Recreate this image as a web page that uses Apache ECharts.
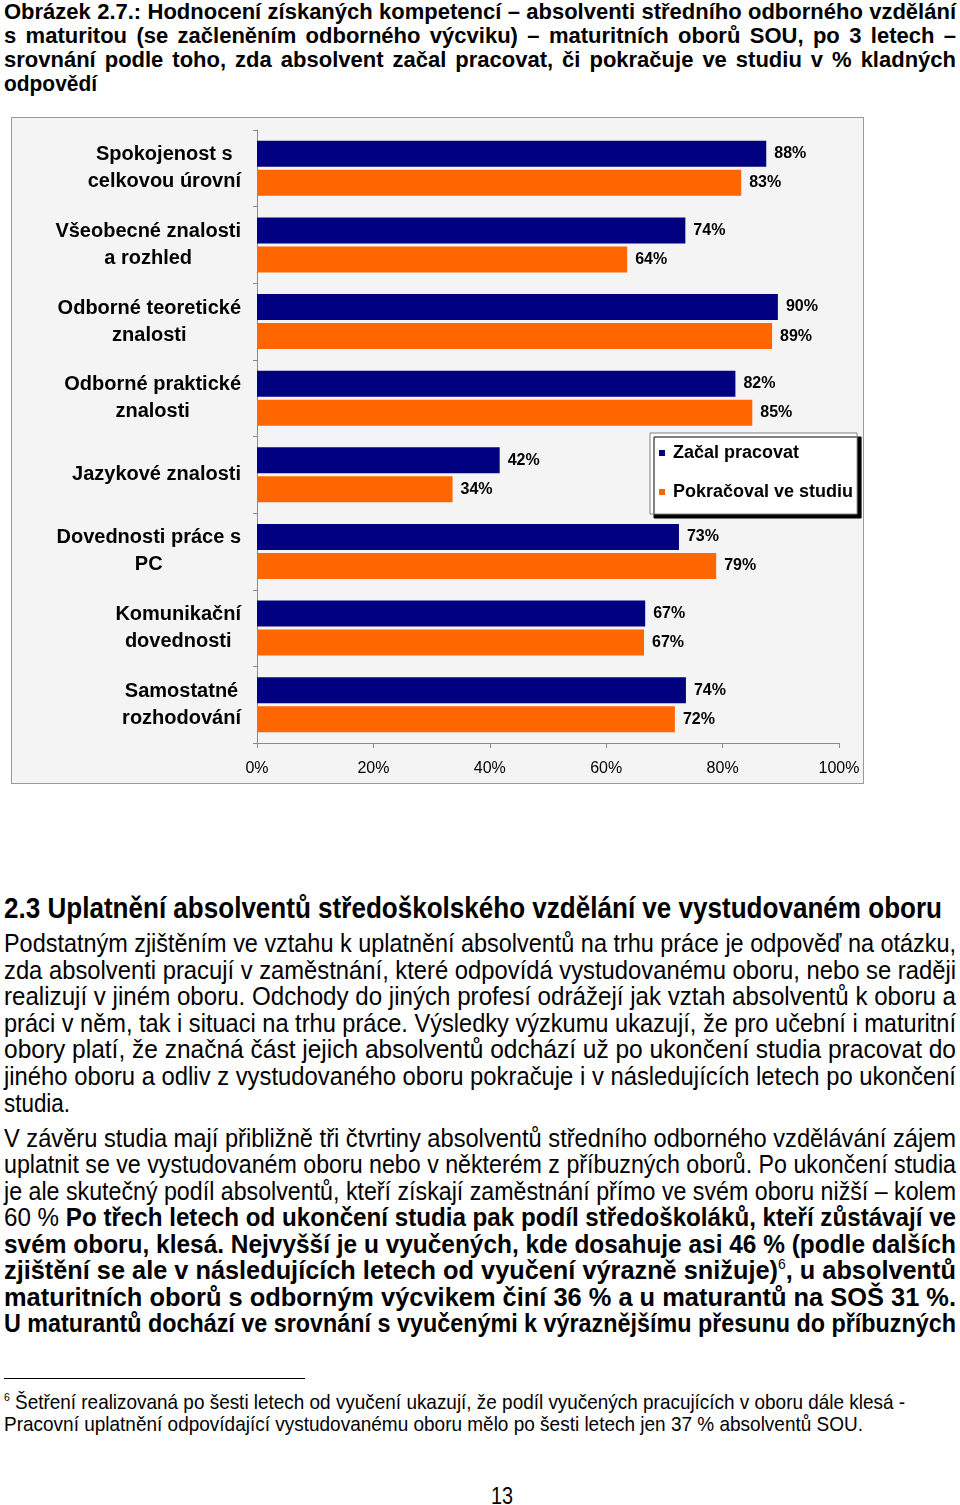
<!DOCTYPE html>
<html><head><meta charset="utf-8">
<script src="https://cdn.jsdelivr.net/npm/echarts@6/dist/echarts.min.js"></script>
<style>
html,body{margin:0;padding:0;background:#fff;}
body{width:960px;height:1505px;position:relative;overflow:hidden;}
.ln{position:absolute;white-space:nowrap;transform-origin:0 50%;color:#000;font-family:"Liberation Sans Narrow","Arial Narrow","Liberation Sans",Arial,sans-serif;}
.t{font-weight:bold;font-size:22px;line-height:24px;}
.h{font-weight:bold;font-size:30px;line-height:30px;}
.p{font-size:26px;line-height:26px;}
.f{font-size:21px;line-height:22px;}
.pg{font-size:24px;line-height:24px;}
sup{font-size:55%;line-height:0;vertical-align:0.7em;}
#frame{position:absolute;left:11px;top:117px;width:853px;height:667px;box-sizing:border-box;border:1px solid #9a9a9a;background:#f4f4f4;}
#chart{position:absolute;left:0;top:0;width:851px;height:665px;}
#rule{position:absolute;left:4px;top:1378px;width:301px;height:1px;background:#000;}
</style>
</head>
<body>
<div id="frame"><div id="chart"></div></div>
<div id="rule"></div>
<div id="text"></div>
<script>
// ---- chart data ----
const categories = [
  'Spokojenost s\ncelkovou úrovní',
  'Všeobecné znalosti\na rozhled',
  'Odborné teoretické\nznalosti',
  'Odborné praktické\nznalosti',
  'Jazykové znalosti',
  'Dovednosti práce s\nPC',
  'Komunikační\ndovednosti',
  'Samostatné\nrozhodování'
];
const seriesNames = ['Začal pracovat', 'Pokračoval ve studiu'];
// values (labels show them rounded)
const zacalPracovat = [87.5, 73.6, 89.5, 82.2, 41.7, 72.5, 66.7, 73.7];
const pokracovalVeStudiu = [83.2, 63.6, 88.5, 85.1, 33.6, 78.9, 66.5, 71.8];
const axisMin = 0, axisMax = 100, axisStep = 20;

// ---- page text ----
const titleLines = [
  'Obrázek 2.7.: Hodnocení získaných kompetencí – absolventi středního odborného vzdělání',
  's maturitou (se začleněním odborného výcviku) – maturitních oborů SOU, po 3 letech –',
  'srovnání podle toho, zda absolvent začal pracovat, či pokračuje ve studiu v % kladných',
  'odpovědí'
];
const headingText = '2.3 Uplatnění absolventů středoškolského vzdělání ve vystudovaném oboru';
const para1 = [
  'Podstatným zjištěním ve vztahu k uplatnění absolventů na trhu práce je odpověď na otázku,',
  'zda absolventi pracují v zaměstnání, které odpovídá vystudovanému oboru, nebo se raději',
  'realizují v jiném oboru. Odchody do jiných profesí odrážejí jak vztah absolventů k oboru a',
  'práci v něm, tak i situaci na trhu práce. Výsledky výzkumu ukazují, že pro učební i maturitní',
  'obory platí, že značná část jejich absolventů odchází už po ukončení studia pracovat do',
  'jiného oboru a odliv z vystudovaného oboru pokračuje i v následujících letech po ukončení',
  'studia.'
];
const para2 = [
  'V závěru studia mají přibližně tři čtvrtiny absolventů středního odborného vzdělávání zájem',
  'uplatnit se ve vystudovaném oboru nebo v některém z příbuzných oborů. Po ukončení studia',
  'je ale skutečný podíl absolventů, kteří získají zaměstnání přímo ve svém oboru nižší – kolem',
  '60 % <b>Po třech letech od ukončení studia pak podíl středoškoláků, kteří zůstávají ve</b>',
  '<b>svém oboru, klesá. Nejvyšší je u vyučených, kde dosahuje asi 46 % (podle dalších</b>',
  '<b>zjištění se ale v následujících letech od vyučení výrazně snižuje)</b><sup>6</sup><b>, u absolventů</b>',
  '<b>maturitních oborů s odborným výcvikem činí 36 % a u maturantů na SOŠ 31 %.</b>',
  '<b>U maturantů dochází ve srovnání s vyučenými k výraznějšímu přesunu do příbuzných</b>'
];
const footLines = [
  '<sup>6</sup> Šetření realizovaná po šesti letech od vyučení ukazují, že podíl vyučených pracujících v oboru dále klesá -',
  'Pracovní uplatnění odpovídající vystudovanému oboru mělo po šesti letech jen 37 % absolventů SOU.'
];
const pageNumber = '13';

// ---- build text lines ----
const holder = document.getElementById('text');
function addLine(html, cls, x, cy, lh, w, just) {
  const d = document.createElement('div');
  d.className = 'ln ' + cls;
  d.innerHTML = html;
  d.style.left = x + 'px';
  d.style.top = (cy - lh / 2) + 'px';
  d.dataset.w = w;
  d.dataset.j = just ? '1' : '0';
  holder.appendChild(d);
}
const tY = [12, 36, 60, 84];
titleLines.forEach((s, i) => addLine(s, 't', 4, tY[i], 24, i < 3 ? 952 : 93, i < 3));
addLine(headingText, 'h', 4, 908, 30, 938, false);
const p1Y = [943, 970, 996, 1023, 1049, 1076, 1103];
para1.forEach((s, i) => addLine(s, 'p', 4, p1Y[i], 26, i < 6 ? 952 : 66, i < 6));
const p2Y = [1138, 1164, 1191, 1217, 1244, 1270, 1297, 1323];
para2.forEach((s, i) => addLine(s, 'p', 4, p2Y[i], 26, 952, true));
addLine(footLines[0], 'f', 4, 1402, 22, 901, false);
addLine(footLines[1], 'f', 4, 1424, 22, 859, false);
addLine(pageNumber, 'pg', 491, 1496, 24, 22, false);

document.querySelectorAll('.ln').forEach(el => {
  const T = +el.dataset.w;
  const W = el.getBoundingClientRect().width;
  if (el.dataset.j === '1') {
    const n = (el.textContent.match(/ /g) || []).length;
    const need = T - W;
    if (need >= 0 && n > 0) {
      el.style.wordSpacing = (need / n) + 'px';
    } else {
      el.style.transform = 'scaleX(' + (T / W) + ')';
    }
  } else {
    el.style.transform = 'scaleX(' + (T / W) + ')';
  }
});

// ---- chart ----
const FONT = '"Liberation Sans", Arial, sans-serif';
const chart = echarts.init(document.getElementById('chart'), null, { renderer: 'canvas' });
const labelStyle = {
  show: true, position: 'right', distance: 8,
  formatter: p => Math.round(p.value) + '%',
  color: '#000', fontSize: 16, fontWeight: 'bold', fontFamily: FONT
};
chart.setOption({
  animation: false,
  backgroundColor: 'transparent',
  textStyle: { fontFamily: FONT },
  grid: { left: 245, right: 24, top: 12, bottom: 40, containLabel: false },
  legend: {
    orient: 'vertical', left: 638, top: 315,
    data: seriesNames,
    icon: 'rect', itemWidth: 6, itemHeight: 6, itemGap: 21,
    padding: [11, 4, 13, 9],
    backgroundColor: '#fff', borderColor: '#808080', borderWidth: 1,
    shadowColor: '#000', shadowBlur: 0, shadowOffsetX: 4, shadowOffsetY: 4,
    textStyle: { color: '#000', fontSize: 18, fontWeight: 'bold', fontFamily: FONT, padding: [0, 0, 0, 3] }
  },
  xAxis: {
    type: 'value', min: axisMin, max: axisMax, interval: axisStep,
    axisLabel: { formatter: '{value}%', color: '#000', fontSize: 16, margin: 18, fontFamily: FONT },
    axisLine: { show: true, lineStyle: { color: '#8a8a8a', width: 1 } },
    axisTick: { show: true, length: 5, lineStyle: { color: '#8a8a8a' } },
    splitLine: { show: false }
  },
  yAxis: {
    type: 'category', inverse: true, data: categories,
    axisLine: { show: true, lineStyle: { color: '#8a8a8a', width: 1 } },
    axisTick: { show: true, length: 4, lineStyle: { color: '#8a8a8a' } },
    axisLabel: {
      margin: 16,
      formatter: v => v.split('\n').map(s => '{c|' + s + '}').join('\n'),
      rich: { c: { align: 'center', fontSize: 20, fontWeight: 'bold', color: '#000', lineHeight: 27, fontFamily: FONT } }
    }
  },
  series: [
    { name: seriesNames[0], type: 'bar', data: zacalPracovat, barWidth: 26, barGap: '12%',
      itemStyle: { color: '#000080' }, label: labelStyle },
    { name: seriesNames[1], type: 'bar', data: pokracovalVeStudiu, barWidth: 26, barGap: '12%',
      itemStyle: { color: '#ff6600' }, label: labelStyle }
  ]
});
</script>
</body></html>
